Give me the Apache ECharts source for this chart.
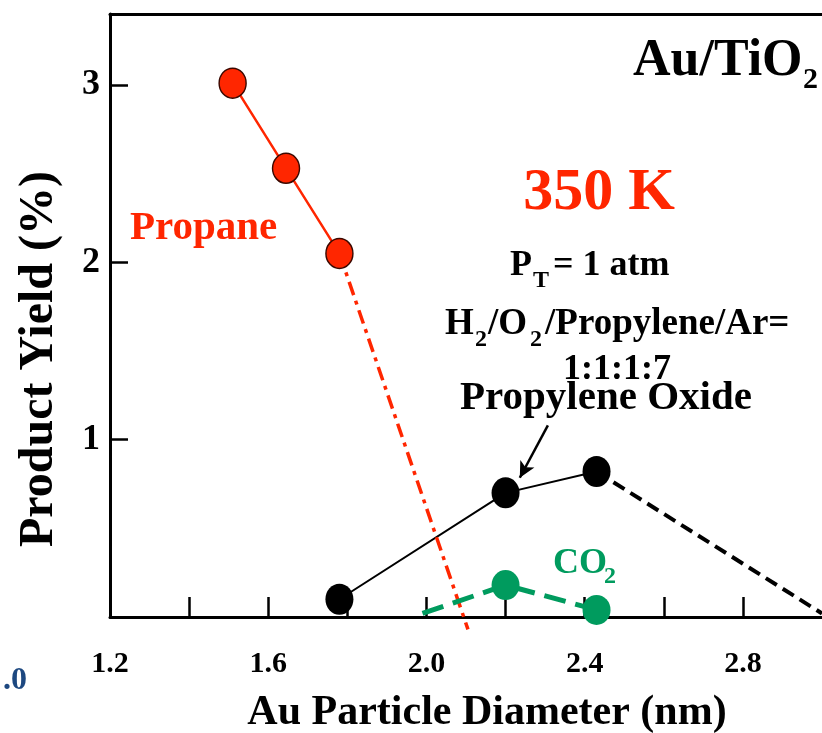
<!DOCTYPE html>
<html>
<head>
<meta charset="utf-8">
<script src="https://cdn.jsdelivr.net/npm/echarts@6/dist/echarts.min.js"></script>
<style>
  html, body { margin: 0; padding: 0; background: #fff; }
  #chart { width: 822px; height: 733px; }
</style>
</head>
<body>
<div id="chart"></div>
<script>
// values
const propaneX = [1.51, 1.645, 1.78];
const propaneY = [3.01, 2.53, 2.05];
const propaneExtX = [1.78, 2.105];
const propaneExtY = [2.05, -0.07];

const oxideX = [1.78, 2.2, 2.43];
const oxideY = [0.1, 0.7, 0.82];
const oxideExtX = [2.43, 3.0];
const oxideExtY = [0.82, 0.02];

const co2X = [1.99, 2.2, 2.43];
const co2Y = [0.02, 0.18, 0.04];

const arrowFrom = [2.307, 1.08];
const arrowTo = [2.236, 0.785];

const xLabelEvery = 0.4;

const RED = '#ff2600';
const GREEN = '#009b5e';
const SERIF = "'Liberation Serif', 'Times New Roman', serif";

const pts = (xs, ys) => xs.map((x, i) => [x, ys[i]]);

const chart = echarts.init(document.getElementById('chart'));

const txt = (text, x, y, size, color, align, extra) => Object.assign({
  type: 'text',
  x: x, y: y,
  style: {
    text: text,
    fill: color || '#000',
    font: 'bold ' + size + 'px ' + SERIF,
    textAlign: align || 'left', align: align || 'left',
    textVerticalAlign: 'middle', verticalAlign: 'middle'
  }
}, extra || {});

const option = {
  animation: false,
  backgroundColor: '#fff',
  grid: { left: 110, right: 0, top: 14, bottom: 116, containLabel: false },
  xAxis: [{
    type: 'value',
    min: 1.2, max: 3.0, interval: 0.2,
    axisLine: { show: true, lineStyle: { color: '#000', width: 3 } },
    axisTick: { show: true, inside: true, length: 20, lineStyle: { color: '#000', width: 2.5 } },
    splitLine: { show: false },
    axisLabel: {
      show: true, margin: 32,
      color: '#000', fontSize: 30, fontWeight: 'bold', fontFamily: SERIF,
      showMinLabel: true, showMaxLabel: false,
      formatter: v => (Math.round(v * 10) % Math.round(xLabelEvery * 10) === 0) ? v.toFixed(1) : ''
    }
  }, {
    type: 'value', position: 'top',
    min: 1.2, max: 3.0,
    axisLine: { show: true, lineStyle: { color: '#000', width: 3 } },
    axisTick: { show: false }, axisLabel: { show: false }, splitLine: { show: false }
  }],
  yAxis: {
    type: 'value',
    min: 0, max: 3.4, interval: 1,
    axisLine: { show: true, lineStyle: { color: '#000', width: 3 } },
    axisTick: { show: true, inside: true, length: 18, lineStyle: { color: '#000', width: 2.5 } },
    splitLine: { show: false },
    axisLabel: {
      margin: 10, color: '#000', fontSize: 36, fontWeight: 'bold', fontFamily: SERIF,
      showMaxLabel: false,
      formatter: v => (v > 0 && Number.isInteger(v)) ? String(v) : ''
    }
  },
  series: [
    {
      name: 'Propane extrapolated', type: 'line', clip: false,
      data: pts(propaneExtX, propaneExtY),
      showSymbol: false, symbol: 'none',
      lineStyle: { color: RED, width: 3.5, type: [14, 6, 4, 6] },
      z: 3
    },
    {
      name: 'Propane', type: 'line',
      data: pts(propaneX, propaneY),
      symbol: 'circle', symbolSize: [27, 30],
      lineStyle: { color: RED, width: 2.5 },
      itemStyle: { color: RED, borderColor: '#3a0800', borderWidth: 1.5 },
      z: 4
    },
    {
      name: 'Propylene Oxide extrapolated', type: 'line',
      data: pts(oxideExtX, oxideExtY),
      symbol: 'none',
      lineStyle: { color: '#000', width: 4, type: [13, 7] },
      z: 2
    },
    {
      name: 'Propylene Oxide', type: 'line',
      data: pts(oxideX, oxideY),
      symbol: 'circle', symbolSize: [28, 31],
      lineStyle: { color: '#000', width: 2 },
      itemStyle: { color: '#000' },
      markLine: {
        silent: true, animation: false,
        symbol: ['none', 'arrow'], symbolSize: [12, 16],
        label: { show: false },
        lineStyle: { color: '#000', width: 2.5, type: 'solid' },
        data: [[{ coord: arrowFrom }, { coord: arrowTo }]]
      },
      z: 2
    },
    {
      name: 'CO2', type: 'line', clip: false,
      data: pts(co2X, co2Y).map((p, i) => i === 0 ? { value: p, symbol: 'none' } : { value: p }),
      symbol: 'circle', symbolSize: [28, 30],
      lineStyle: { color: GREEN, width: 5, type: [22, 10] },
      itemStyle: { color: GREEN },
      z: 3
    }
  ],
  graphic: [
    txt('Product Yield (%)', 40, 359, 48, '#000', 'center', { rotation: Math.PI / 2 }),
    txt('Au Particle Diameter (nm)', 487, 713, 42, '#000', 'center'),
    txt('.0', 27, 681, 32, '#1d4880', 'right'),
    txt('Au/TiO', 633, 62, 52),
    txt('2', 803, 80, 30),
    txt('350 K', 599, 193, 60, RED, 'center'),
    txt('P', 510, 266, 36),
    txt('T', 533, 281, 24),
    txt('= 1 atm', 553, 266, 36),
    txt('H', 445, 324, 37),
    txt('2', 475, 340, 24),
    txt('/O', 488, 324, 37),
    txt('2', 530, 340, 24),
    txt('/Propylene/Ar=', 545, 324, 37),
    txt('1:1:1:7', 617, 370, 36, '#000', 'center'),
    txt('Propylene Oxide', 460, 398, 41),
    txt('Propane', 130, 228, 41, RED),
    txt('CO', 553, 564, 36, GREEN),
    txt('2', 604, 577, 24, GREEN)
  ]
};

chart.setOption(option);
</script>
</body>
</html>
